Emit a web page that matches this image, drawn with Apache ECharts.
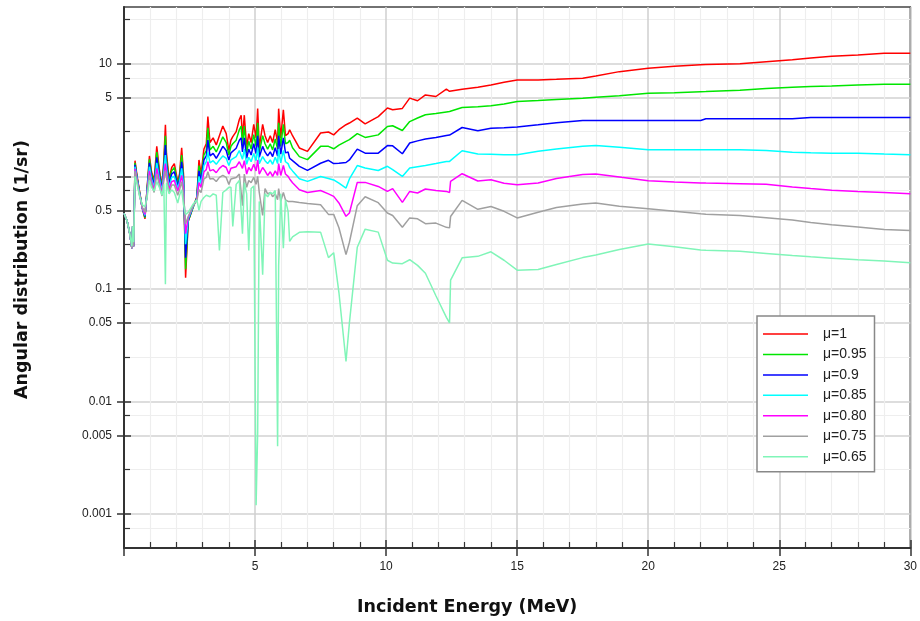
<!DOCTYPE html>
<html><head><meta charset="utf-8">
<script src="https://cdn.jsdelivr.net/npm/echarts@6/dist/echarts.min.js"></script>
<style>html,body{margin:0;background:#fff}#c{width:920px;height:621px}</style>
</head><body><div id="c"></div>
<script>
// === 資料：入射能量 (MeV) ===
const energy=[0.00,0.12,0.22,0.30,0.33,0.37,0.42,0.50,0.60,0.70,0.80,0.88,0.97,1.05,1.15,1.25,1.35,1.45,1.52,1.58,1.62,1.72,1.82,1.92,2.05,2.12,2.20,2.27,2.35,2.45,2.62,2.78,2.86,2.94,3.05,3.14,3.20,3.28,3.40,3.52,3.64,3.77,3.90,4.00,4.08,4.15,4.28,4.40,4.47,4.52,4.59,4.68,4.76,4.85,4.95,5.04,5.10,5.16,5.29,5.38,5.48,5.58,5.67,5.77,5.86,5.90,5.98,6.08,6.16,6.26,6.32,6.43,
 6.69,7.0,7.5,7.8,8.0,8.2,8.47,8.6,8.9,9.2,9.7,10.05,10.25,10.62,10.9,11.2,11.5,11.9,12.3,12.42,12.46,12.9,13.5,14.0,14.5,15.0,15.8,16.5,17.5,18.0,18.9,20.0,21.0,22.0,22.2,23.5,24.5,25.5,26.2,27.0,28.0,29.0,30.0];

// === 各 μ 的角分布 (1/sr) ===
const mu100=[0.47,0.40,0.31,0.23,0.36,0.24,1.38,1.00,0.72,0.52,0.42,0.78,1.52,1.10,0.92,1.85,1.15,0.82,1.40,2.87,1.60,0.95,1.20,1.30,0.90,1.05,1.80,1.05,0.126,0.40,0.52,0.66,1.40,1.05,1.75,1.95,3.40,2.00,2.20,1.90,2.30,2.80,2.40,1.70,2.10,2.26,2.50,3.20,3.50,2.20,3.50,1.80,2.40,2.00,2.90,2.20,4.00,1.80,2.90,2.30,2.00,2.30,2.00,2.60,2.00,4.00,2.20,3.90,2.30,2.40,2.60,2.30,
 1.79,1.67,2.43,2.48,2.34,2.60,2.88,2.98,3.30,2.93,3.40,4.05,3.91,4.02,4.96,4.70,5.30,5.13,5.96,5.70,5.56,5.96,6.20,6.50,6.85,7.20,7.20,7.30,7.46,7.80,8.53,9.15,9.50,9.80,9.85,10.0,10.45,10.9,11.3,11.7,12.0,12.4,12.4];
const mu095=[0.47,0.40,0.31,0.23,0.36,0.24,1.32,0.98,0.71,0.52,0.43,0.76,1.42,1.05,0.88,1.65,1.08,0.79,1.30,2.30,1.45,0.90,1.12,1.20,0.86,1.00,1.55,0.98,0.15,0.40,0.52,0.65,1.25,0.98,1.55,1.70,2.70,1.72,1.85,1.65,1.90,2.25,2.00,1.55,1.85,1.95,2.10,2.60,2.80,1.90,2.80,1.62,2.05,1.75,2.35,1.85,3.00,1.62,2.30,1.95,1.75,1.95,1.72,2.15,1.75,3.00,1.85,2.90,1.95,2.00,2.10,1.80,
 1.50,1.41,1.85,1.85,1.76,1.90,2.05,2.12,2.40,2.22,2.34,2.78,2.82,2.56,3.07,3.30,3.53,3.62,3.74,3.77,3.80,4.09,4.15,4.24,4.40,4.63,4.72,4.82,4.95,5.05,5.20,5.49,5.55,5.65,5.67,5.82,6.05,6.20,6.28,6.37,6.50,6.60,6.60];
const mu090=[0.47,0.40,0.31,0.23,0.36,0.24,1.27,0.96,0.70,0.52,0.44,0.74,1.32,1.00,0.84,1.48,1.02,0.76,1.20,1.90,1.32,0.85,1.05,1.10,0.82,0.95,1.35,0.92,0.19,0.41,0.53,0.64,1.12,0.92,1.40,1.52,2.10,1.52,1.60,1.45,1.62,1.85,1.70,1.40,1.62,1.68,1.78,2.10,2.20,1.65,2.20,1.45,1.75,1.55,1.95,1.60,2.30,1.48,1.85,1.65,1.52,1.65,1.50,1.80,1.52,2.30,1.58,2.20,1.62,1.65,1.45,1.38,
 1.23,1.13,1.31,1.39,1.30,1.31,1.33,1.40,1.75,1.61,1.61,1.88,1.87,1.59,1.98,2.07,2.15,2.22,2.31,2.33,2.34,2.72,2.54,2.68,2.71,2.75,2.88,3.00,3.14,3.14,3.14,3.14,3.14,3.14,3.25,3.25,3.25,3.25,3.34,3.34,3.34,3.34,3.34];
const mu085=[0.47,0.40,0.31,0.23,0.36,0.24,1.22,0.94,0.69,0.52,0.45,0.72,1.22,0.95,0.80,1.32,0.96,0.73,1.10,1.55,1.20,0.80,0.98,1.00,0.78,0.90,1.18,0.86,0.25,0.42,0.53,0.63,1.00,0.86,1.25,1.35,1.65,1.32,1.38,1.28,1.40,1.52,1.45,1.25,1.40,1.45,1.50,1.70,1.75,1.42,1.75,1.28,1.48,1.35,1.60,1.38,1.80,1.30,1.50,1.38,1.30,1.40,1.28,1.48,1.30,1.75,1.32,1.70,1.35,1.30,1.20,1.12,
 0.954,0.903,1.00,0.96,0.93,0.87,0.789,0.95,1.25,1.19,1.13,1.23,1.15,1.00,1.19,1.22,1.25,1.30,1.36,1.36,1.36,1.69,1.58,1.57,1.56,1.56,1.67,1.75,1.85,1.88,1.82,1.73,1.73,1.73,1.73,1.73,1.70,1.64,1.62,1.61,1.61,1.58,1.56];
const mu080=[0.47,0.40,0.31,0.23,0.36,0.24,1.17,0.92,0.68,0.52,0.46,0.70,1.12,0.90,0.76,1.18,0.90,0.70,1.00,1.30,1.08,0.76,0.90,0.92,0.74,0.84,1.02,0.78,0.31,0.43,0.54,0.62,0.88,0.80,1.10,1.15,1.35,1.12,1.15,1.08,1.18,1.25,1.20,1.05,1.18,1.20,1.22,1.35,1.40,1.18,1.38,1.05,1.20,1.12,1.28,1.12,1.40,1.05,1.20,1.12,1.02,1.10,1.00,1.12,1.02,1.30,1.02,1.25,1.05,1.00,0.95,0.88,
 0.762,0.721,0.75,0.70,0.665,0.581,0.442,0.473,0.885,0.885,0.815,0.736,0.78,0.588,0.736,0.712,0.773,0.75,0.736,0.72,0.903,1.057,0.91,0.935,0.87,0.844,0.874,0.96,1.04,1.05,0.99,0.916,0.89,0.874,0.872,0.862,0.85,0.805,0.78,0.755,0.735,0.72,0.703];
const mu075=[0.47,0.40,0.31,0.23,0.36,0.24,1.12,0.90,0.67,0.53,0.48,0.68,1.02,0.86,0.72,1.05,0.84,0.67,0.92,1.12,0.98,0.72,0.84,0.84,0.68,0.76,0.90,0.70,0.38,0.44,0.54,0.61,0.76,0.72,0.95,0.98,1.10,0.95,0.96,0.90,0.98,1.02,0.98,0.85,0.95,0.96,0.98,1.05,1.08,0.55,1.05,0.80,0.92,0.88,0.98,0.85,1.00,0.72,0.45,0.78,0.70,0.72,0.66,0.70,0.62,0.78,0.60,0.72,0.62,0.60,0.60,0.60,
 0.588,0.575,0.561,0.46,0.46,0.35,0.202,0.26,0.55,0.66,0.585,0.473,0.45,0.353,0.428,0.42,0.38,0.385,0.353,0.349,0.44,0.613,0.51,0.54,0.49,0.428,0.48,0.53,0.57,0.581,0.544,0.517,0.49,0.465,0.462,0.45,0.43,0.41,0.39,0.373,0.355,0.337,0.33];
const mu065=[0.47,0.40,0.31,0.24,0.36,0.26,1.00,0.85,0.66,0.56,0.54,0.65,0.92,0.80,0.74,0.90,0.80,0.68,0.85,0.11,0.88,0.70,0.76,0.72,0.58,0.68,0.76,0.56,0.46,0.48,0.56,0.62,0.50,0.60,0.65,0.68,0.70,0.66,0.70,0.68,0.22,0.72,0.76,0.80,0.80,0.36,0.85,0.92,0.90,0.31,0.88,0.70,0.22,0.78,0.82,0.0012,0.0053,0.60,0.134,0.70,0.66,0.72,0.70,0.75,0.0040,0.16,0.70,0.23,0.62,0.49,0.265,0.29,
 0.319,0.322,0.32,0.19,0.21,0.093,0.0227,0.05,0.235,0.34,0.32,0.18,0.17,0.168,0.182,0.162,0.138,0.087,0.056,0.05,0.12,0.189,0.195,0.214,0.18,0.147,0.149,0.165,0.19,0.20,0.224,0.251,0.237,0.222,0.221,0.216,0.207,0.198,0.193,0.188,0.182,0.177,0.171];

const NAMES=['μ=1','μ=0.95','μ=0.9','μ=0.85','μ=0.80','μ=0.75','μ=0.65'];
const COLORS=['#ff0000','#00e600','#0000ff','#00ffff','#ff00ff','#a0a0a0','#80f5b8'];
const SERIES=[mu100,mu095,mu090,mu085,mu080,mu075,mu065];
const yMajor=[0.001,0.005,0.01,0.05,0.1,0.5,1,5,10];
const yMinor=[0.00075,0.0025,0.0075,0.025,0.075,0.25,0.75,2.5,7.5,25];

// === 樣式 ===
const FONT='Liberation Sans';
const INK='#333';
const lbl={color:'#222',fontSize:12,fontFamily:FONT};
const nameStyle={color:'#111',fontSize:17.5,fontWeight:'bold',fontFamily:'DejaVu Sans'};

const xBase={type:'value',min:0,max:30,interval:5,position:'bottom',axisLine:{show:false,onZero:false},axisLabel:{show:false},splitLine:{show:false}};
const yBase={type:'log',logBase:10,min:0.0005,max:32,position:'left',axisLine:{show:false,onZero:false},axisLabel:{show:false},splitLine:{show:false}};

const chart=echarts.init(document.getElementById('c'));
chart.setOption({
  animation:false,
  backgroundColor:'#fff',
  grid:{left:124,top:7,width:788,height:541,show:true,borderColor:'#444',borderWidth:1.5,backgroundColor:'transparent'},
  xAxis:[
    {...xBase,z:3,
      axisLine:{show:true,onZero:false,lineStyle:{color:INK,width:2}},
      axisTick:{inside:true,length:8,lineStyle:{color:INK,width:1.5}},
      minorTick:{show:true,splitNumber:5,length:6,lineStyle:{color:INK,width:1.2}},
      axisLabel:{...lbl,show:true,margin:13,formatter:v=>v===0?'':String(v)},
      splitLine:{show:true,lineStyle:{color:'#cfcfcf',width:1.5}},
      minorSplitLine:{show:true,lineStyle:{color:'#eeeeee',width:1.2}},
      name:'Incident Energy (MeV)',nameLocation:'middle',nameGap:50,
      nameTextStyle:{...nameStyle,padding:[0,100,0,0]}},
    {...xBase,z:3,axisTick:{length:8,lineStyle:{color:INK,width:1.5}}}
  ],
  yAxis:[
    {...yBase,z:3,
      axisLine:{show:true,onZero:false,lineStyle:{color:INK,width:2}},
      axisTick:{customValues:yMajor,length:7,lineStyle:{color:INK,width:1.5}},
      axisLabel:{...lbl,show:true,customValues:yMajor,margin:12,formatter:v=>String(+(+v).toPrecision(3))},
      splitLine:{show:true,lineStyle:{color:'#d2d2d2',width:1.5}},
      name:'Angular distribution (1/sr)',nameLocation:'middle',nameGap:93,
      nameTextStyle:{...nameStyle,padding:[0,0,0,16]}},
    {...yBase,z:3,axisTick:{customValues:yMajor,inside:true,length:7,lineStyle:{color:INK,width:1.5}}},
    {...yBase,z:1,axisTick:{customValues:yMinor,inside:true,length:6,lineStyle:{color:INK,width:1.2}},
      splitLine:{show:true,lineStyle:{color:'#eeeeee',width:1.2}}}
  ],
  legend:{orient:'vertical',left:757,top:316,padding:[11,8,8,6],itemWidth:45,itemHeight:14,itemGap:6.45,
    icon:'path://M0,0H45V1.5H0Z',
    borderColor:'#888',borderWidth:1.5,backgroundColor:'#fff',
    textStyle:{fontSize:14,color:'#222',fontFamily:FONT,padding:[0,0,0,10]},data:NAMES},
  series:SERIES.map((vals,i)=>({
    name:NAMES[i],type:'line',xAxisIndex:0,yAxisIndex:0,
    symbol:'none',showSymbol:false,
    lineStyle:{color:COLORS[i],width:1.5},itemStyle:{color:COLORS[i]},
    data:energy.map((e,j)=>[e,vals[j]])
  }))
});
</script>
</body></html>
